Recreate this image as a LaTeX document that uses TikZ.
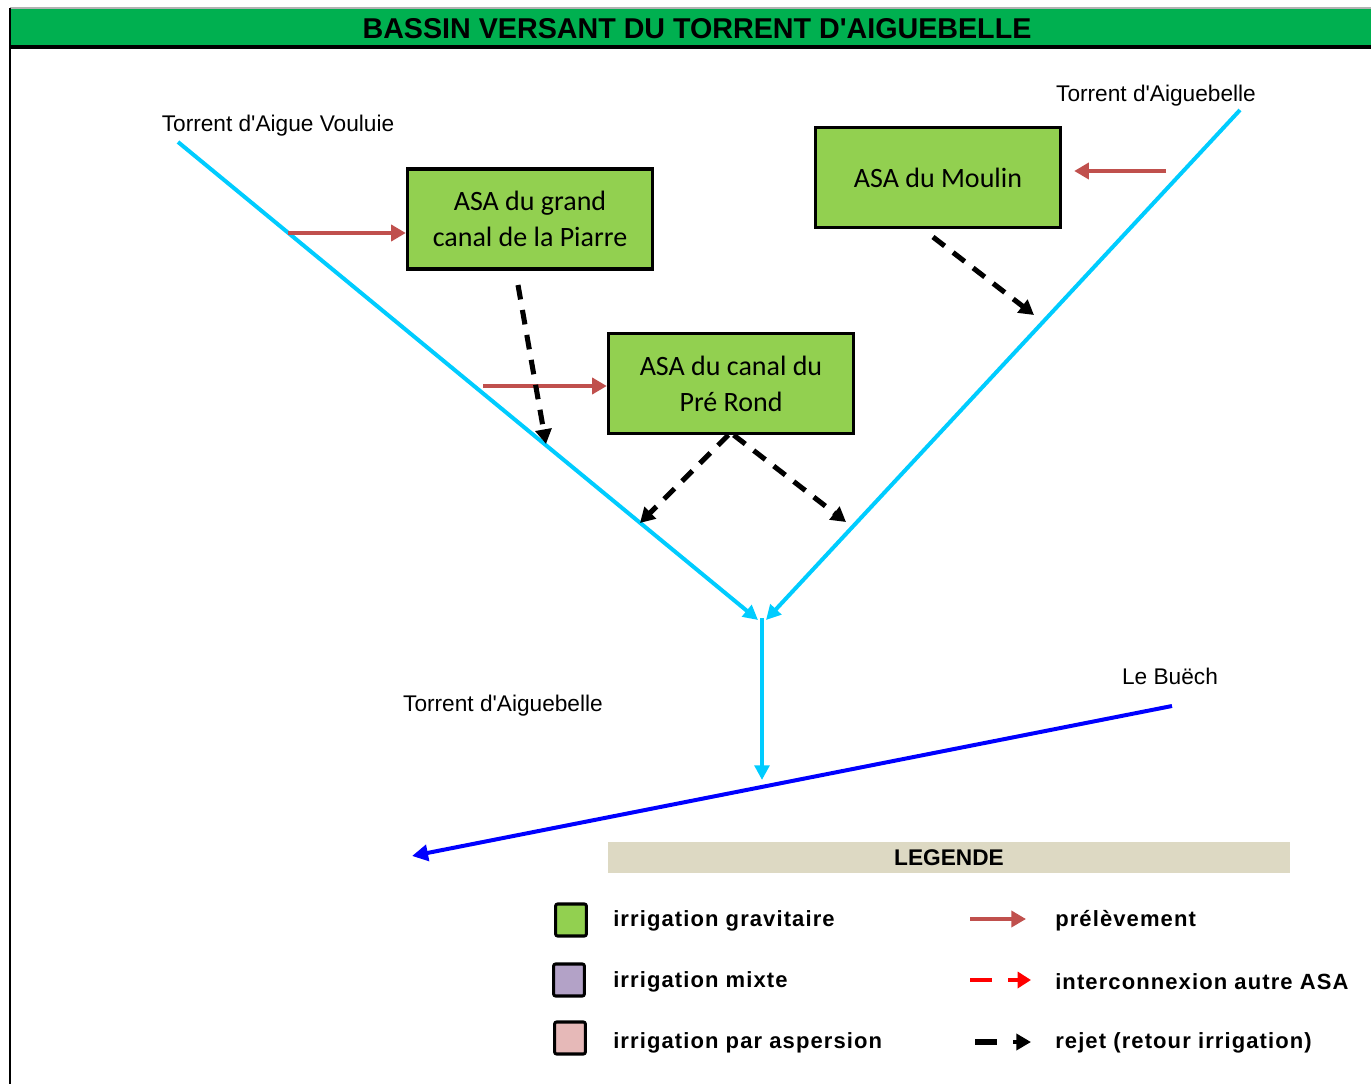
\documentclass[tikz,border=0pt]{standalone}
\usepackage{fontspec}
\setmainfont{Liberation Sans}
\newfontfamily\calib{Carlito}
\newfontfamily\legfont[LetterSpace=5]{Liberation Sans}
\usetikzlibrary{arrows.meta,calc}
\definecolor{titlegreen}{RGB}{0,176,80}
\definecolor{boxgreen}{RGB}{146,208,80}
\definecolor{rivercyan}{RGB}{0,204,255}
\definecolor{riverblue}{RGB}{0,0,255}
\definecolor{prered}{RGB}{192,80,77}
\definecolor{legbar}{RGB}{221,217,195}
\definecolor{mixpurple}{RGB}{179,162,199}
\definecolor{asppink}{RGB}{230,185,184}
\begin{document}
\begin{tikzpicture}[x=0.75pt,y=-0.75pt,
  asabox/.style={draw=black,line width=2.3pt,fill=boxgreen,minimum width=184pt,minimum height=75pt,align=center,font=\calib\fontsize{21}{27}\selectfont,inner sep=0pt},
  river/.style={draw=rivercyan,line width=3pt,-{Triangle[length=11pt,width=11pt]}},
  bigriver/.style={draw=riverblue,line width=3pt,-{Triangle[length=12pt,width=12pt]}},
  pre/.style={draw=prered,line width=3.6pt,-{Triangle[length=11pt,width=12pt]}},
  rejet/.style={draw=black,line width=3.8pt,dash pattern=on 11pt off 8pt,-{Triangle[length=11pt,width=12pt]}},
  lab/.style={font=\fontsize{17}{20}\selectfont,inner sep=0pt},
  legtxt/.style={font=\legfont\bfseries\fontsize{16.5}{19}\selectfont,anchor=west,inner sep=0pt},
  legsq/.style={draw=black,line width=2.3pt,rounded corners=1.5pt,minimum width=23pt,minimum height=24pt,inner sep=0pt}
]
\useasboundingbox (0,0) rectangle (1371,1084);
% frame and title
\fill[titlegreen] (10,8) rectangle (1371,46);
\draw[gray!60,line width=0.8pt] (10,8) -- (1371,8);
\draw[black,line width=2.4pt] (10,47) -- (1371,47);
\draw[black,line width=1pt] (10,8) -- (10,1084);
\node[font=\bfseries\fontsize{21.5}{24}\selectfont,inner sep=0pt] (title) at (697,29) {BASSIN VERSANT DU TORRENT D\textquotesingle AIGUEBELLE};

% river coordinates
\coordinate (lsrc) at (178,142);
\coordinate (lend) at (758,620);
\coordinate (rsrc) at (1240,110);
\coordinate (rend) at (766,620);
\coordinate (conf) at (762,618);
\coordinate (cend) at (762,780);
\coordinate (bsrc) at (1172,706);
\coordinate (bend) at (412,856);

\draw[river] (lsrc) -- (lend);
\draw[river] (rsrc) -- (rend);
\draw[river] (conf) -- (cend);
\draw[bigriver] (bsrc) -- (bend);

% labels
\node[lab] (l1) at (278,126) {Torrent d\textquotesingle Aigue Vouluie};
\node[lab] (l2) at (1156,96) {Torrent d\textquotesingle Aiguebelle};
\node[lab] (l3) at (503,706) {Torrent d\textquotesingle Aiguebelle};
\node[lab] (l4) at (1170,676) {Le Buëch};

% boxes
\node[asabox] (b1) at (530,219) {ASA du grand\\canal de la Piarre};
\node[asabox] (b2) at (731,383.5) {ASA du canal du\\Pré Rond};
\node[asabox] (b3) at (938,177.5) {ASA du Moulin};

% prelevements
\coordinate (p1) at (288,233);
\coordinate (p2) at (483,386);
\coordinate (p3) at (1166,171);
\draw[pre] (p1) -- (p1 -| b1.west);
\draw[pre] (p2) -- (p2 -| b2.west);
\draw[pre] (p3) -- ([xshift=9pt]p3 -| b3.east);

% rejets
\coordinate (d1s) at (518,285);
\coordinate (d1e) at (546,444);
\coordinate (d2e) at (640,523);
\coordinate (d3e) at (846,522);
\coordinate (d4s) at (933,237);
\coordinate (d4e) at (1034,315);
\draw[rejet] (d1s) -- (d1e);
\draw[rejet] ([xshift=-2pt]b2.south) -- (d2e);
\draw[rejet] ([xshift=2pt]b2.south) -- (d3e);
\draw[rejet] (d4s) -- (d4e);

% legend
\fill[legbar] (608,842) rectangle (1290,873);
\node[font=\bfseries\fontsize{17}{19}\selectfont,inner sep=0pt] (legtitle) at (949,858) {LEGENDE};

\node[legsq,fill=boxgreen] (s1) at (571,920) {};
\node[legsq,fill=mixpurple] (s2) at (569,980) {};
\node[legsq,fill=asppink] (s3) at (570,1038) {};
\node[legtxt] (t1) at (613,921) {irrigation gravitaire};
\node[legtxt] (t2) at (613,982) {irrigation mixte};
\node[legtxt] (t3) at (613,1043) {irrigation par aspersion};

\coordinate (a1s) at (970,919);
\coordinate (a1e) at (1026,919);
\draw[pre] (a1s) -- (a1e);
\coordinate (a2s) at (970,980);
\coordinate (a2m) at (992,980);
\coordinate (a2n) at (1008,980);
\coordinate (a2e) at (1031,980);
\draw[red,line width=3.6pt] (a2s) -- (a2m);
\draw[red,line width=3.6pt,-{Triangle[length=10pt,width=12pt]}] (a2n) -- (a2e);
\coordinate (a3s) at (975,1042);
\coordinate (a3m) at (997,1042);
\coordinate (a3n) at (1013,1042);
\coordinate (a3e) at (1031,1042);
\draw[black,line width=3.8pt] (a3s) -- (a3m);
\draw[black,line width=3pt,-{Triangle[length=11pt,width=12pt]}] (a3n) -- (a3e);
\node[legtxt] (t4) at (1055,921) {prélèvement};
\node[legtxt] (t5) at (1055,982) {interconnexion autre ASA};
\node[legtxt] (t6) at (1055,1043) {rejet (retour irrigation)};
\end{tikzpicture}
\end{document}
